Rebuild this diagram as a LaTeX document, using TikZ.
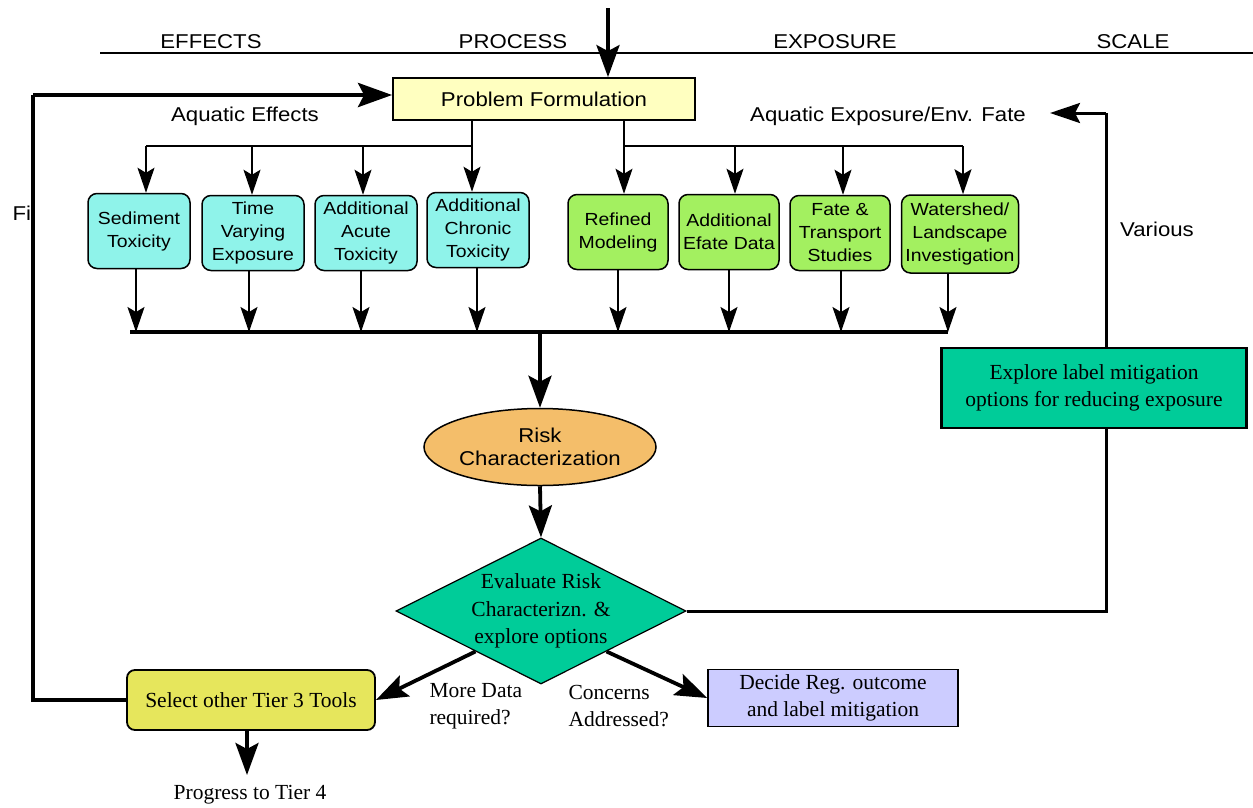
\documentclass[tikz,border=0pt]{standalone}
\usepackage{fontspec}
\setmainfont{Liberation Serif}
\newfontfamily\sansface{Liberation Sans}[FakeStretch=1.11]
\usetikzlibrary{arrows.meta,shapes.geometric,calc}

\definecolor{pfyellow}{HTML}{FFFFC0}
\definecolor{effcyan}{HTML}{8FF3EA}
\definecolor{expgreen}{HTML}{A3F060}
\definecolor{riskorange}{HTML}{F4BE6A}
\definecolor{evalgreen}{HTML}{00CC99}
\definecolor{toolyellow}{HTML}{E6E65C}
\definecolor{decideblue}{HTML}{CCCCFF}

\tikzset{
  sanstxt/.style={font=\sansface\fontsize{20}{23}\selectfont},
  boxtxt/.style={font=\sansface\fontsize{17.5}{23}\selectfont},
  seriftxt/.style={font=\fontsize{21.5}{27.5}\selectfont},
  effbox/.style={draw, line width=1.5, rounded corners=9, fill=effcyan,
    boxtxt, align=center, minimum width=102, minimum height=75, inner sep=0},
  expbox/.style={effbox, fill=expgreen, minimum width=100},
  thinarrow/.style={line width=1.6, -{Stealth[length=25, width=17, inset=5]}},
  thinline/.style={line width=1.6},
  boldarrow/.style={line width=3.8, -{Stealth[length=32, width=23, inset=6]}},
  loopline/.style={line width=4.5},
  bigarrow/.style={line width=4.5, -{Stealth[length=34, width=24, inset=6]}},
  midline/.style={line width=3},
}

\begin{document}
\begin{tikzpicture}[x=1pt, y=-1pt]
\useasboundingbox (0,0) rectangle (1253,807);

% header rule and column titles
\coordinate (hl) at (100,53);
\coordinate (hr) at (1253,53);
\draw[line width=1.8] (hl) -- (hr);
\node[sanstxt] (tEff) at (211,42) {EFFECTS};
\node[sanstxt] (tProc) at (513,42) {PROCESS};
\node[sanstxt] (tExp) at (835,42) {EXPOSURE};
\node[sanstxt] (tScale) at (1133,42) {SCALE};

% problem formulation
\node[draw, line width=1.8, fill=pfyellow, sanstxt, minimum width=302, minimum height=42, inner sep=0]
  (pf) at (544,99) {Problem Formulation};
\coordinate (topin) at (608,8);
\draw[boldarrow] (topin) -- (topin |- pf.north);

\node[sanstxt] (aqeff) at (245,116) {Aquatic Effects};
\node[sanstxt] (aqexp) at (888,116) {Aquatic Exposure/Env. Fate};
\node[sanstxt, anchor=west] (fi) at (9,213) {Fi};
\node[sanstxt] (various) at (1157,229) {Various};

% effects branch
\node[effbox] (sed) at (139,231) {Sediment\\Toxicity};
\node[effbox] (tvar) at (253,233) {Time\\Varying\\Exposure};
\node[effbox] (acute) at (366,233) {Additional\\Acute\\Toxicity};
\node[effbox] (chron) at (478,230) {Additional\\Chronic\\Toxicity};

\coordinate (eL) at (146,146);
\coordinate (eR) at (472,146);
\coordinate (e2) at (252,146);
\coordinate (e3) at (363,146);
\draw[thinline] (pf.south -| eR) -- (eR);
\draw[thinline] (eL) -- (eR);
\draw[thinarrow] (eL) -- (sed.north -| eL);
\draw[thinarrow] (e2) -- (tvar.north -| e2);
\draw[thinarrow] (e3) -- (acute.north -| e3);
\draw[thinarrow] (eR) -- (chron.north -| eR);

% exposure branch
\node[expbox] (refm) at (618,232) {Refined\\Modeling};
\node[expbox] (efate) at (729,232) {Additional\\Efate Data};
\node[expbox] (fate) at (840,233) {Fate \&\\Transport\\Studies};
\node[expbox, minimum width=117, minimum height=78] (water) at (960,234) {Watershed/\\Landscape\\Investigation};

\coordinate (xL) at (624,146);
\coordinate (x2) at (735,146);
\coordinate (x3) at (843,146);
\coordinate (xR) at (963,146);
\draw[thinline] (pf.south -| xL) -- (xL);
\draw[thinline] (xL) -- (xR);
\draw[thinarrow] (xL) -- (refm.north -| xL);
\draw[thinarrow] (x2) -- (efate.north -| x2);
\draw[thinarrow] (x3) -- (fate.north -| x3);
\draw[thinarrow] (xR) -- (water.north -| xR);

% collecting bus
\coordinate (busL) at (130,332);
\coordinate (busR) at (948,332);
\draw[line width=3.6] (busL) -- (busR);
\foreach \n/\x in {sed/136, tvar/249, acute/361, chron/477, refm/618, efate/729, fate/841, water/948}
  \draw[thinarrow] (\n.south -| \x,0) -- (\x,332);

% risk characterization
\node[ellipse, draw, line width=1.5, fill=riskorange, minimum width=232, minimum height=77,
  label={[sanstxt, align=center]center:Risk\\Characterization}] (risk) at (540,447) {};
\coordinate (busM) at (540,332);
\draw[boldarrow] (busM) -- (risk.north);

% evaluation diamond
\node[diamond, draw, line width=1.2, fill=evalgreen, minimum width=290, minimum height=146, inner sep=0,
  label={[seriftxt, align=center]center:Evaluate Risk\\Characterizn. \&\\explore options}] (eval) at (541,611) {};
\draw[boldarrow] (risk.south) -- (eval.north);

% mitigation loop on the right
\coordinate (rc) at (1106,113);
\coordinate (fatetip) at (1050,113);
\draw[midline] (eval.east) -- (eval.east -| rc) -- (rc);
\draw[midline, -{Stealth[length=30, width=20, inset=5]}] (rc) -- (fatetip);
\node[draw, line width=2.6, fill=evalgreen, seriftxt, align=center, minimum width=305, minimum height=80, inner sep=0]
  (explore) at (1094,388) {Explore label mitigation\\options for reducing exposure};

% outcomes
\node[draw, line width=1.8, rounded corners=8, fill=toolyellow, seriftxt, minimum width=248, minimum height=60, inner sep=0]
  (sel) at (251,700) {Select other Tier 3 Tools};
\node[draw, line width=1.8, fill=decideblue, seriftxt, align=center, minimum width=250, minimum height=57, inner sep=0]
  (dec) at (833,698) {Decide Reg. outcome\\and label mitigation};
\draw[boldarrow] ($(eval.south)!0.45!(eval.west)$) -- (sel.east);
\draw[boldarrow] ($(eval.south)!0.45!(eval.east)$) -- (dec.west);

\node[seriftxt, align=left, anchor=west] (more) at (426,706) {More Data\\required?};
\node[seriftxt, align=left, anchor=west] (conc) at (565,706) {Concerns\\Addressed?};

\node[seriftxt, inner sep=1] (prog) at (250,795) {Progress to Tier 4};
\draw[boldarrow] (sel.south -| 247,0) -- (247,775);

% feedback loop on the left
\coordinate (lc) at (33,95);
\draw[loopline] (sel.west) -- (sel.west -| lc) -- (lc);
\draw[bigarrow] (lc) -- (lc -| pf.west);
\end{tikzpicture}
\end{document}
